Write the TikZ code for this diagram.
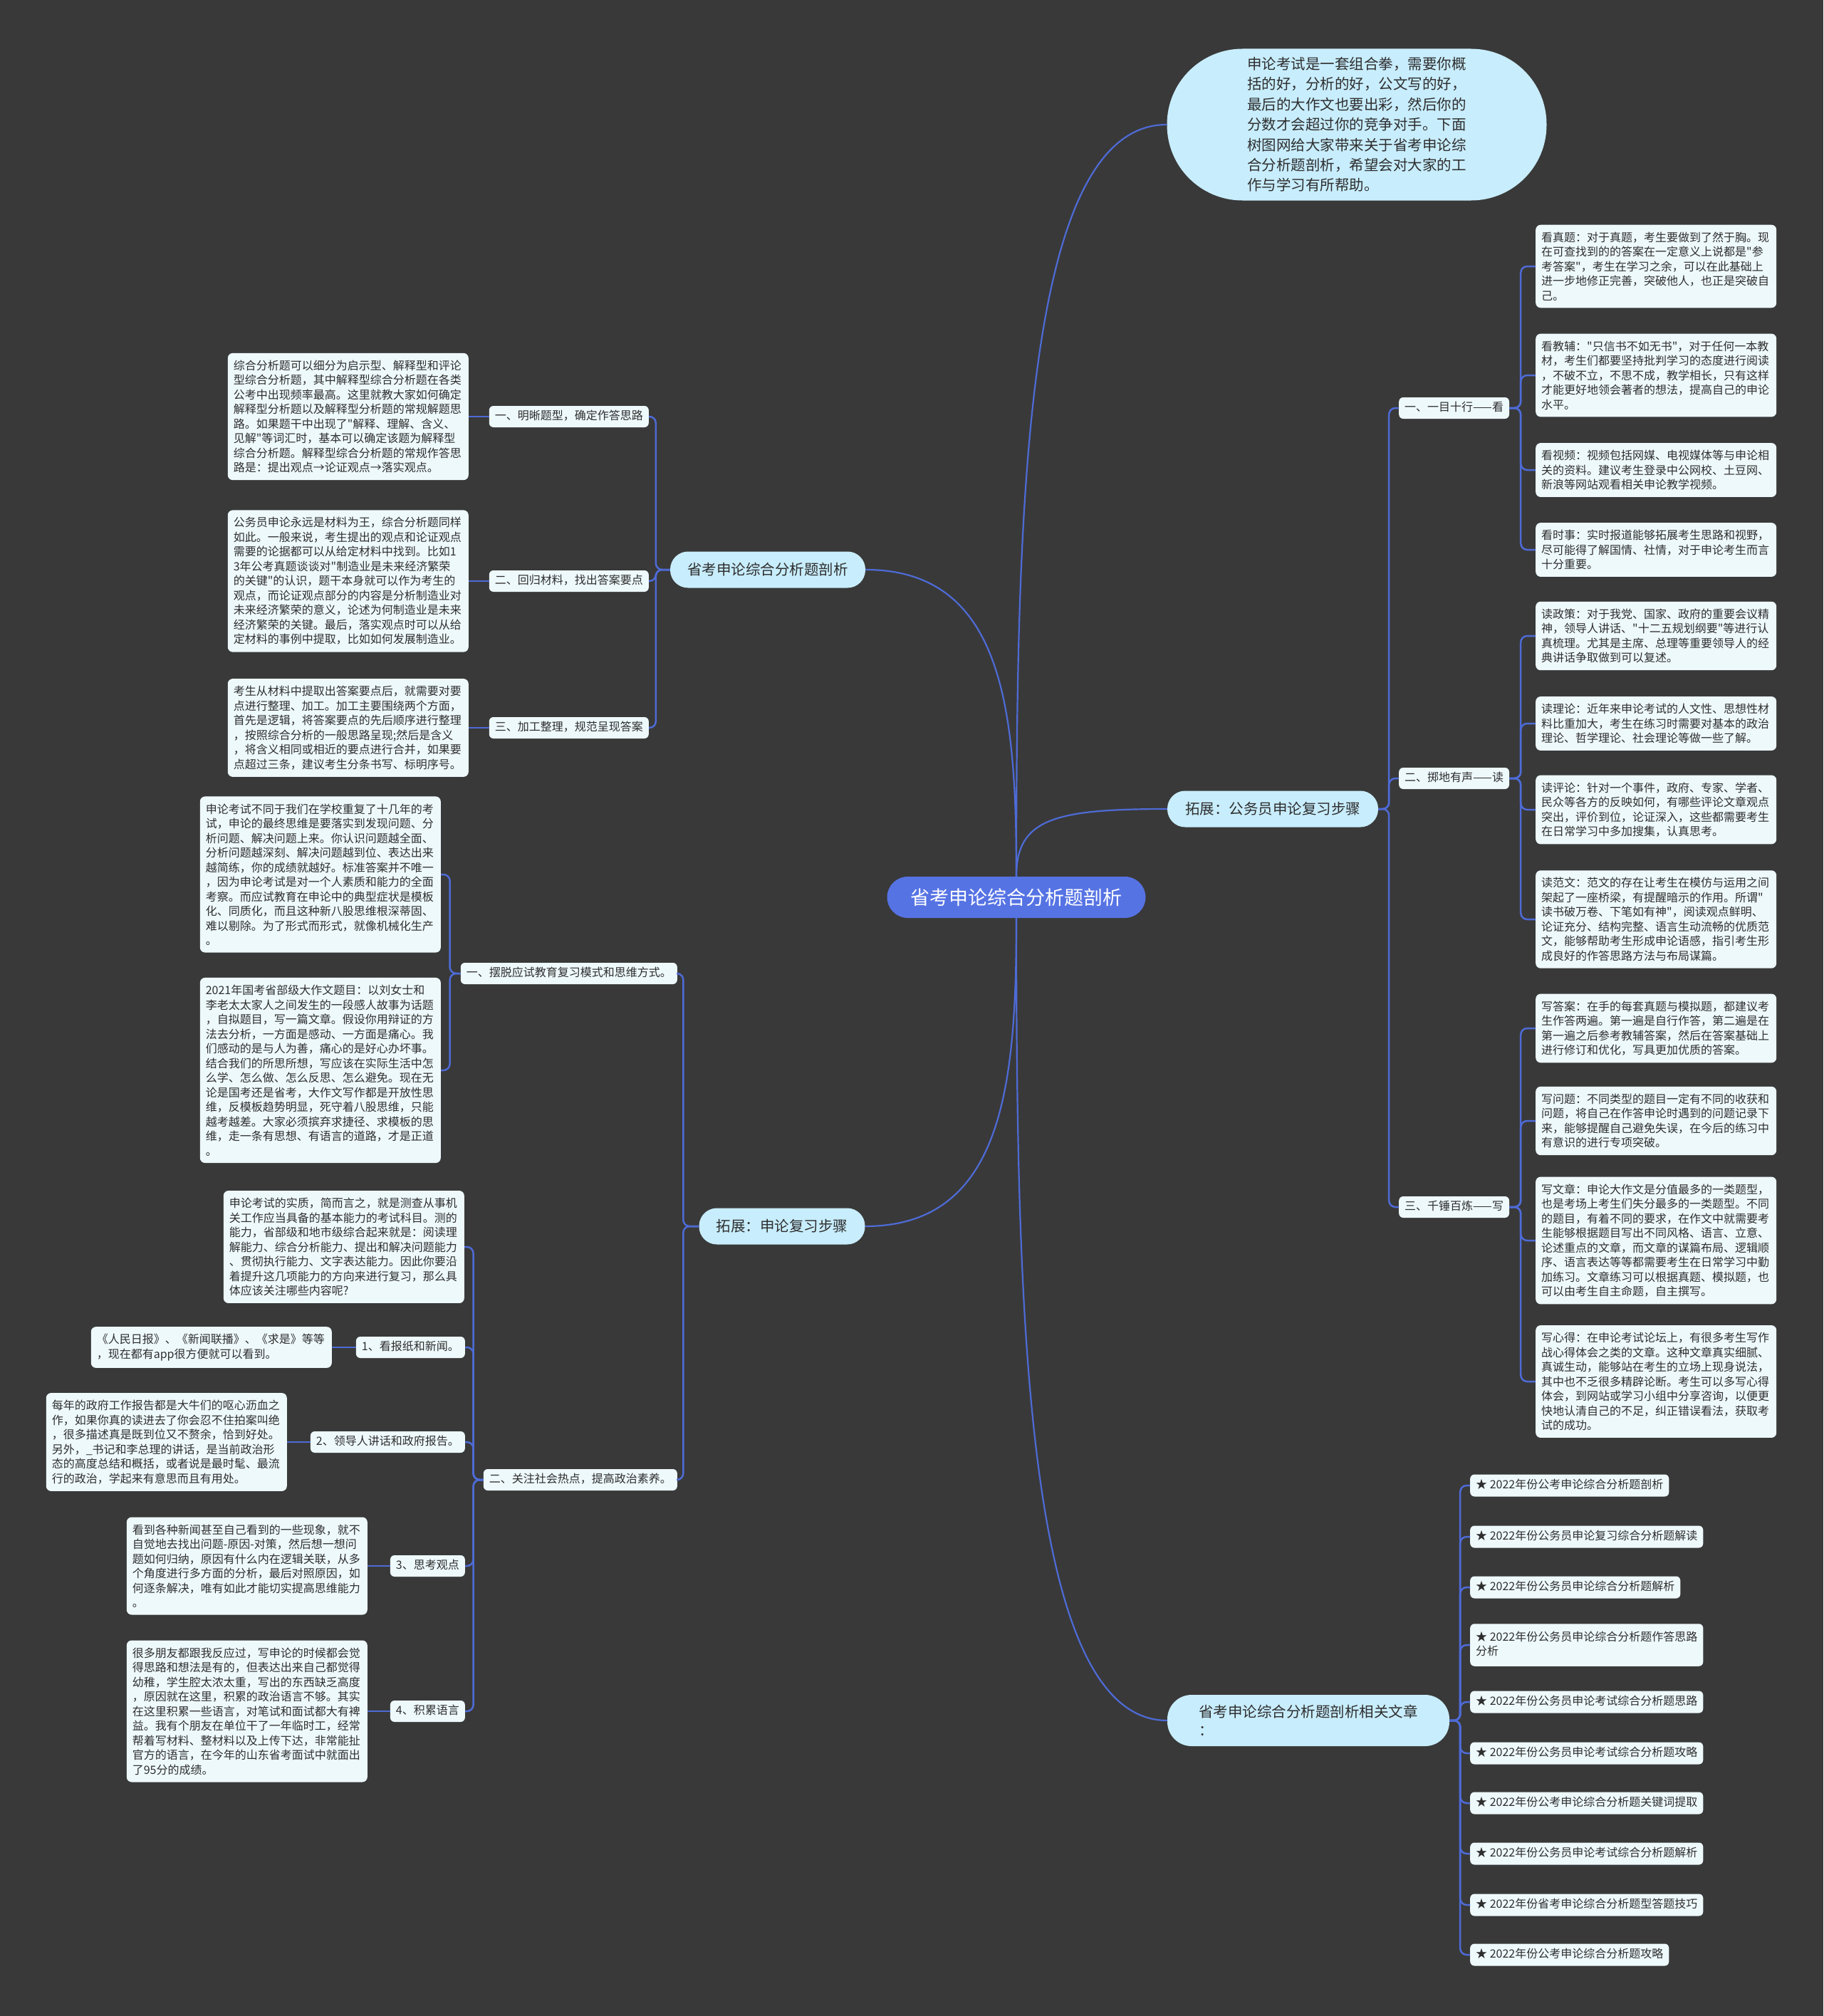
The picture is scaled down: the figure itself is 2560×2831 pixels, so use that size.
\documentclass[tikz,border=0pt]{standalone}
\usepackage{fontspec}
\setmainfont{Noto Sans CJK SC}[Ligatures=TeXOff]
\definecolor{bgc}{HTML}{393939}
\definecolor{linec}{HTML}{4E6BD6}
\definecolor{rootc}{HTML}{5673E4}
\definecolor{lonec}{HTML}{C8EDFC}
\definecolor{leafc}{HTML}{EEF9FC}
\definecolor{txtc}{HTML}{2E2E2E}
\begin{document}
\begin{tikzpicture}[x=1pt,y=-1pt,
  leaf/.style={fill=leafc, rounded corners=7pt, text width=322pt, align=left, inner xsep=8pt, inner ysep=10pt, font=\fontsize{16}{20.5}\selectfont, text=txtc},
  lab/.style={fill=leafc, rounded corners=6pt, inner xsep=8pt, inner ysep=7.5pt, text height=12pt, text depth=3pt, font=\fontsize{16}{20}\selectfont, text=txtc},
  item/.style={fill=leafc, rounded corners=6pt, inner xsep=8pt, inner ysep=8pt, text height=12pt, text depth=3pt, align=left, font=\fontsize{16}{20.5}\selectfont, text=txtc},
  lone/.style={fill=lonec, rounded corners=25pt, minimum height=51pt, font=\fontsize{20.5}{26}\selectfont, text=txtc},
  br/.style={draw=linec, line width=2.5pt, rounded corners=9pt},
  cv/.style={draw=linec, line width=2.2pt}]
\fill[bgc] (0,0) rectangle (2560,2831);
\path[use as bounding box] (0,0) rectangle (2560,2831);

% root
\node[fill=rootc, rounded corners=29pt, minimum width=363pt, minimum height=58pt, text=white, font=\fontsize{27}{32}\selectfont] (root) at (1427,1260) {省考申论综合分析题剖析};

% top intro bubble
\node[fill=lonec, rounded corners=106pt, minimum width=533pt, minimum height=213pt, text width=308pt, align=left, font=\fontsize{20.5}{28.4}\selectfont, text=txtc] (intro) at (1905,175) {申论考试是一套组合拳，需要你概\\括的好，分析的好，公文写的好，\\最后的大作文也要出彩，然后你的\\分数才会超过你的竞争对手。下面\\树图网给大家带来关于省考申论综\\合分析题剖析，希望会对大家的工\\作与学习有所帮助。};

% level 1
\node[lone, minimum width=296pt] (ext1) at (1787,1136) {拓展：公务员申论复习步骤};
\node[lone, minimum width=274pt] (la) at (1078,800) {省考申论综合分析题剖析};
\node[lone, minimum width=233pt] (lb) at (1098,1722) {拓展：申论复习步骤};
\node[lone, minimum width=396pt, minimum height=72pt, rounded corners=34pt, align=left] (rel) at (1837,2416) {省考申论综合分析题剖析相关文章\\：};

% right labels
\node[lab, anchor=west] (rl1) at (1964,573) {一、一目十行——看};
\node[lab, anchor=west] (rl2) at (1964,1093) {二、掷地有声——读};
\node[lab, anchor=west] (rl3) at (1964,1695) {三、千锤百炼——写};

% right leaves
\node[leaf, anchor=west] (rk1) at (2156,374) {看真题：对于真题，考生要做到了然于胸。现\\在可查找到的的答案在一定意义上说都是"参\\考答案"，考生在学习之余，可以在此基础上\\进一步地修正完善，突破他人，也正是突破自\\己。};
\node[leaf, anchor=west] (rk2) at (2156,527) {看教辅："只信书不如无书"，对于任何一本教\\材，考生们都要坚持批判学习的态度进行阅读\\，不破不立，不思不成，教学相长，只有这样\\才能更好地领会著者的想法，提高自己的申论\\水平。};
\node[leaf, anchor=west] (rk3) at (2156,660) {看视频：视频包括网媒、电视媒体等与申论相\\关的资料。建议考生登录中公网校、土豆网、\\新浪等网站观看相关申论教学视频。};
\node[leaf, anchor=west] (rk4) at (2156,772) {看时事：实时报道能够拓展考生思路和视野，\\尽可能得了解国情、社情，对于申论考生而言\\十分重要。};
\node[leaf, anchor=west] (rd1) at (2156,893) {读政策：对于我党、国家、政府的重要会议精\\神，领导人讲话、"十二五规划纲要"等进行认\\真梳理。尤其是主席、总理等重要领导人的经\\典讲话争取做到可以复述。};
\node[leaf, anchor=west] (rd2) at (2156,1016) {读理论：近年来申论考试的人文性、思想性材\\料比重加大，考生在练习时需要对基本的政治\\理论、哲学理论、社会理论等做一些了解。};
\node[leaf, anchor=west] (rd3) at (2156,1137) {读评论：针对一个事件，政府、专家、学者、\\民众等各方的反映如何，有哪些评论文章观点\\突出，评价到位，论证深入，这些都需要考生\\在日常学习中多加搜集，认真思考。};
\node[leaf, anchor=west] (rd4) at (2156,1291) {读范文：范文的存在让考生在模仿与运用之间\\架起了一座桥梁，有提醒暗示的作用。所谓"\\读书破万卷、下笔如有神"，阅读观点鲜明、\\论证充分、结构完整、语言生动流畅的优质范\\文，能够帮助考生形成申论语感，指引考生形\\成良好的作答思路方法与布局谋篇。};
\node[leaf, anchor=west] (rw1) at (2156,1444) {写答案：在手的每套真题与模拟题，都建议考\\生作答两遍。第一遍是自行作答，第二遍是在\\第一遍之后参考教辅答案，然后在答案基础上\\进行修订和优化，写具更加优质的答案。};
\node[leaf, anchor=west] (rw2) at (2156,1574) {写问题：不同类型的题目一定有不同的收获和\\问题，将自己在作答申论时遇到的问题记录下\\来，能够提醒自己避免失误，在今后的练习中\\有意识的进行专项突破。};
\node[leaf, anchor=west] (rw3) at (2156,1742) {写文章：申论大作文是分值最多的一类题型，\\也是考场上考生们失分最多的一类题型。不同\\的题目，有着不同的要求，在作文中就需要考\\生能够根据题目写出不同风格、语言、立意、\\论述重点的文章，而文章的谋篇布局、逻辑顺\\序、语言表达等等都需要考生在日常学习中勤\\加练习。文章练习可以根据真题、模拟题，也\\可以由考生自主命题，自主撰写。};
\node[leaf, anchor=west] (rw4) at (2156,1940) {写心得：在申论考试论坛上，有很多考生写作\\战心得体会之类的文章。这种文章真实细腻、\\真诚生动，能够站在考生的立场上现身说法，\\其中也不乏很多精辟论断。考生可以多写心得\\体会，到网站或学习小组中分享咨询，以便更\\快地认清自己的不足，纠正错误看法，获取考\\试的成功。};

% related items
\node[item, anchor=west] (i1) at (2064,2086) {★ 2022年份公考申论综合分析题剖析};
\node[item, anchor=west] (i2) at (2064,2158) {★ 2022年份公务员申论复习综合分析题解读};
\node[item, anchor=west] (i3) at (2064,2229) {★ 2022年份公务员申论综合分析题解析};
\node[item, anchor=west, text height=32.5pt, inner ysep=12pt] (i4) at (2064,2310) {★ 2022年份公务员申论综合分析题作答思路\\分析};
\node[item, anchor=west] (i5) at (2064,2390) {★ 2022年份公务员申论考试综合分析题思路};
\node[item, anchor=west] (i6) at (2064,2462) {★ 2022年份公务员申论考试综合分析题攻略};
\node[item, anchor=west] (i7) at (2064,2532) {★ 2022年份公考申论综合分析题关键词提取};
\node[item, anchor=west] (i8) at (2064,2603) {★ 2022年份公务员申论考试综合分析题解析};
\node[item, anchor=west] (i9) at (2064,2675) {★ 2022年份省考申论综合分析题型答题技巧};
\node[item, anchor=west] (i10) at (2064,2745) {★ 2022年份公考申论综合分析题攻略};

% left top labels & leaves
\node[lab, anchor=east] (a1) at (911,585) {一、明晰题型，确定作答思路};
\node[lab, anchor=east] (a2) at (911,816) {二、回归材料，找出答案要点};
\node[lab, anchor=east] (a3) at (911,1022) {三、加工整理，规范呈现答案};
\node[leaf, anchor=east] (a1l) at (658,585) {综合分析题可以细分为启示型、解释型和评论\\型综合分析题，其中解释型综合分析题在各类\\公考中出现频率最高。这里就教大家如何确定\\解释型分析题以及解释型分析题的常规解题思\\路。如果题干中出现了"解释、理解、含义、\\见解"等词汇时，基本可以确定该题为解释型\\综合分析题。解释型综合分析题的常规作答思\\路是：提出观点→论证观点→落实观点。};
\node[leaf, anchor=east] (a2l) at (658,816) {公务员申论永远是材料为王，综合分析题同样\\如此。一般来说，考生提出的观点和论证观点\\需要的论据都可以从给定材料中找到。比如1\\3年公考真题谈谈对"制造业是未来经济繁荣\\的关键"的认识，题干本身就可以作为考生的\\观点，而论证观点部分的内容是分析制造业对\\未来经济繁荣的意义，论述为何制造业是未来\\经济繁荣的关键。最后，落实观点时可以从给\\定材料的事例中提取，比如如何发展制造业。};
\node[leaf, anchor=east] (a3l) at (658,1022) {考生从材料中提取出答案要点后，就需要对要\\点进行整理、加工。加工主要围绕两个方面，\\首先是逻辑，将答案要点的先后顺序进行整理\\，按照综合分析的一般思路呈现;然后是含义\\，将含义相同或相近的要点进行合并，如果要\\点超过三条，建议考生分条书写、标明序号。};

% left lower
\node[lab, anchor=east] (m1) at (951,1367) {一、摆脱应试教育复习模式和思维方式。};
\node[lab, anchor=east] (m2) at (951,2078) {二、关注社会热点，提高政治素养。};
\node[leaf, anchor=east] (m1a) at (619,1228) {申论考试不同于我们在学校重复了十几年的考\\试，申论的最终思维是要落实到发现问题、分\\析问题、解决问题上来。你认识问题越全面、\\分析问题越深刻、解决问题越到位、表达出来\\越简练，你的成绩就越好。标准答案并不唯一\\，因为申论考试是对一个人素质和能力的全面\\考察。而应试教育在申论中的典型症状是模板\\化、同质化，而且这种新八股思维根深蒂固、\\难以剔除。为了形式而形式，就像机械化生产\\。};
\node[leaf, anchor=east] (m1b) at (619,1503) {2021年国考省部级大作文题目：以刘女士和\\李老太太家人之间发生的一段感人故事为话题\\，自拟题目，写一篇文章。假设你用辩证的方\\法去分析，一方面是感动、一方面是痛心。我\\们感动的是与人为善，痛心的是好心办坏事。\\结合我们的所思所想，写应该在实际生活中怎\\么学、怎么做、怎么反思、怎么避免。现在无\\论是国考还是省考，大作文写作都是开放性思\\维，反模板趋势明显，死守着八股思维，只能\\越考越差。大家必须摈弃求捷径、求模板的思\\维，走一条有思想、有语言的道路，才是正道\\。};
\node[leaf, anchor=east] (s0) at (652,1751) {申论考试的实质，简而言之，就是测查从事机\\关工作应当具备的基本能力的考试科目。测的\\能力，省部级和地市级综合起来就是：阅读理\\解能力、综合分析能力、提出和解决问题能力\\、贯彻执行能力、文字表达能力。因此你要沿\\着提升这几项能力的方向来进行复习，那么具\\体应该关注哪些内容呢?};
\node[lab, anchor=east] (n1) at (653,1892) {1、看报纸和新闻。};
\node[lab, anchor=east] (n2) at (653,2025) {2、领导人讲话和政府报告。};
\node[lab, anchor=east] (n3) at (653,2199) {3、思考观点};
\node[lab, anchor=east] (n4) at (653,2403) {4、积累语言};
\node[leaf, anchor=east] (n1l) at (466,1892) {《人民日报》、《新闻联播》、《求是》等等\\，现在都有app很方便就可以看到。};
\node[leaf, anchor=east] (n2l) at (403,2025) {每年的政府工作报告都是大牛们的呕心沥血之\\作，如果你真的读进去了你会忍不住拍案叫绝\\，很多描述真是既到位又不赘余，恰到好处。\\另外，\_书记和李总理的讲话，是当前政治形\\态的高度总结和概括，或者说是最时髦、最流\\行的政治，学起来有意思而且有用处。};
\node[leaf, anchor=east] (n3l) at (516,2199) {看到各种新闻甚至自己看到的一些现象，就不\\自觉地去找出问题-原因-对策，然后想一想问\\题如何归纳，原因有什么内在逻辑关联，从多\\个角度进行多方面的分析，最后对照原因，如\\何逐条解决，唯有如此才能切实提高思维能力\\。};
\node[leaf, anchor=east] (n4l) at (516,2403) {很多朋友都跟我反应过，写申论的时候都会觉\\得思路和想法是有的，但表达出来自己都觉得\\幼稚，学生腔太浓太重，写出的东西缺乏高度\\，原因就在这里，积累的政治语言不够。其实\\在这里积累一些语言，对笔试和面试都大有裨\\益。我有个朋友在单位干了一年临时工，经常\\帮着写材料、整材料以及上传下达，非常能扯\\官方的语言，在今年的山东省考面试中就面出\\了95分的成绩。};

% root curves
\path[cv] (root.north) .. controls (1427,700) and (1440,175) .. (intro.west);
\path[cv] (root.north) .. controls (1427,1150) and (1480,1136) .. (ext1.west);
\path[cv] (root.north) .. controls (1427,1000) and (1410,800) .. (la.east);
\path[cv] (root.south) .. controls (1427,1520) and (1410,1722) .. (lb.east);
\path[cv] (root.south) .. controls (1427,1850) and (1440,2416) .. (rel.west);

% right brackets
\foreach \c in {rl1,rl2,rl3} \path[br] (ext1.east) -- ([xshift=15pt]ext1.east) |- (\c.west);
\foreach \c in {rk1,rk2,rk3,rk4} \path[br] (rl1.east) -- ([xshift=16pt]rl1.east) |- (\c.west);
\foreach \c in {rd1,rd2,rd3,rd4} \path[br] (rl2.east) -- ([xshift=16pt]rl2.east) |- (\c.west);
\foreach \c in {rw1,rw2,rw3,rw4} \path[br] (rl3.east) -- ([xshift=16pt]rl3.east) |- (\c.west);
\foreach \c in {i1,i2,i3,i4,i5,i6,i7,i8,i9,i10} \path[br] (rel.east) -- ([xshift=15pt]rel.east) |- (\c.west);

% left brackets
\foreach \c in {a1,a2,a3} \path[br] (la.west) -- ([xshift=-20pt]la.west) |- (\c.east);
\path[br] (a1.west) -- (a1l.east);
\path[br] (a2.west) -- (a2l.east);
\path[br] (a3.west) -- (a3l.east);
\foreach \c in {m1,m2} \path[br] (lb.west) -- ([xshift=-22pt]lb.west) |- (\c.east);
\foreach \c in {m1a,m1b} \path[br] (m1.west) -- ([xshift=-15pt]m1.west) |- (\c.east);
\foreach \c in {s0,n1,n2,n3,n4} \path[br] (m2.west) -- ([xshift=-14pt]m2.west) |- (\c.east);
\path[br] (n1.west) -- (n1l.east);
\path[br] (n2.west) -- (n2l.east);
\path[br] (n3.west) -- (n3l.east);
\path[br] (n4.west) -- (n4l.east);
\end{tikzpicture}
\end{document}
